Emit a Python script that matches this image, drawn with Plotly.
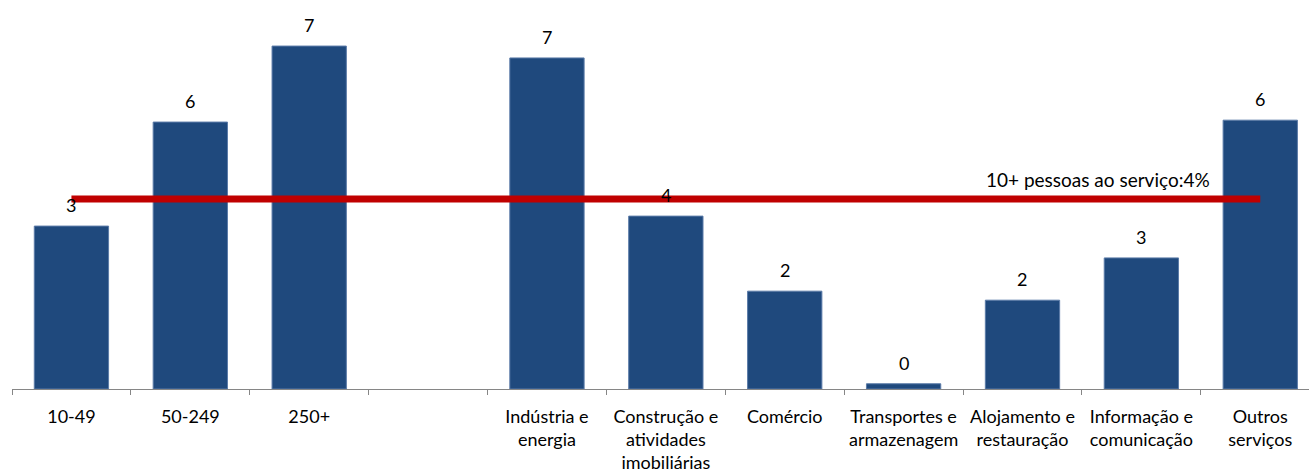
import plotly.graph_objects as go

# Categories: company size classes, a spacer, then economic activity sectors
categories = [
    "10-49", "50-249", "250+", " ",
    "Indústria e<br>energia",
    "Construção e<br>atividades<br>imobiliárias",
    "Comércio",
    "Transportes e<br>armazenagem",
    "Alojamento e<br>restauração",
    "Informação e<br>comunicação",
    "Outros<br>serviços",
]
values = [3.43, 5.62, 7.22, None, 6.97, 3.64, 2.06, 0.11, 1.87, 2.76, 5.66]

reference_value = 4
reference_label = "10+ pessoas ao serviço:4%"

FONT = "Lato"
BAR_COLOR = "#1F497D"
LINE_COLOR = "#C00000"

fig = go.Figure()

fig.add_trace(go.Bar(
    x=categories,
    y=values,
    marker=dict(color=BAR_COLOR, line=dict(color="#5B7BA8", width=1)),
    showlegend=False,
    hoverinfo="skip",
))

# Value labels above the bars, rounded to whole percent
for cat, val in zip(categories, values):
    if val is None:
        continue
    fig.add_annotation(
        x=cat, y=val, xref="x", yref="y",
        text=f"{val:.0f}",
        showarrow=False,
        xanchor="center", yanchor="bottom",
        yshift=8,
        font=dict(family=FONT, size=18, color="#000000"),
    )

fig.add_trace(go.Scatter(
    x=[categories[0], categories[-1]],
    y=[reference_value, reference_value],
    mode="lines",
    line=dict(color=LINE_COLOR, width=7),
    showlegend=False,
    hoverinfo="skip",
))

fig.add_annotation(
    x=categories[-1], y=reference_value,
    xref="x", yref="y",
    text=reference_label,
    showarrow=False,
    xanchor="right", yanchor="bottom",
    xshift=-48, yshift=6,
    font=dict(family=FONT, size=19, color="#000000"),
)

fig.update_layout(
    width=1309, height=469,
    margin=dict(l=12, r=0, t=0, b=80),
    paper_bgcolor="white",
    plot_bgcolor="white",
    bargap=0.375,
    font=dict(family=FONT, size=18, color="#000000"),
)

fig.update_xaxes(
    type="category",
    range=[-0.5, 10.41],
    automargin=False,
    showline=True, linecolor="#868686", linewidth=1,
    ticks="outside", tickson="boundaries", ticklen=5, tickcolor="#868686",
    tickfont=dict(family=FONT, size=18, color="#000000"),
    ticklabelstandoff=11,
    showgrid=False,
)

fig.update_yaxes(
    range=[0, 8.19],
    visible=False,
    showgrid=False,
    zeroline=False,
)

fig.write_html("out.html")
